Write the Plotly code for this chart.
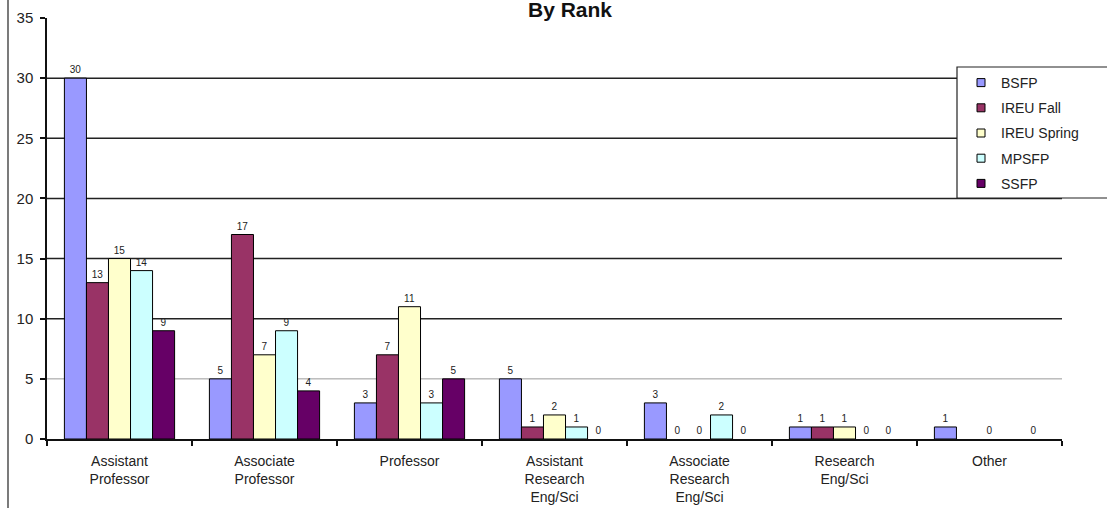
import plotly.graph_objects as go

# Faculty counts by rank for each program (None = no entry for that rank)
categories = [
    "Assistant<br>Professor",
    "Associate<br>Professor",
    "Professor",
    "Assistant<br>Research<br>Eng/Sci",
    "Associate<br>Research<br>Eng/Sci",
    "Research<br>Eng/Sci",
    "Other",
]
series_names = ["BSFP", "IREU Fall", "IREU Spring", "MPSFP", "SSFP"]
bsfp = [30, 5, 3, 5, 3, 1, 1]
ireu_fall = [13, 17, 7, 1, 0, 1, None]
ireu_spring = [15, 7, 11, 2, 0, 1, 0]
mpsfp = [14, 9, 3, 1, 2, 0, None]
ssfp = [9, 4, 5, 0, 0, 0, 0]
series_values = [bsfp, ireu_fall, ireu_spring, mpsfp, ssfp]
colors = ["#9999FF", "#993366", "#FFFFCC", "#CCFFFF", "#660066"]
grid_levels = [5, 10, 15, 20, 25, 30]
y_ticks = [0, 5, 10, 15, 20, 25, 30, 35]

W, H = 1107, 508
L, R, T, B = 47, 45, 18, 69
pw, ph = W - L - R, H - T - B


def px_x(p):
    return (p - L) / pw


def px_y(p):
    return (H - B - p) / ph


FONT = "Liberation Sans, Arial, sans-serif"

fig = go.Figure()
for name, vals, col in zip(series_names, series_values, colors):
    fig.add_trace(go.Bar(
        x=categories, y=vals, name=name,
        marker=dict(color=col,
                    line=dict(color="#000000",
                              width=[1 if v else 0 for v in vals])),
        text=["" if v is None else str(v) for v in vals],
        textposition="outside",
        textfont=dict(size=10, color="#222222", family=FONT),
        cliponaxis=False, showlegend=False,
    ))
    # compact legend swatch
    fig.add_trace(go.Scatter(
        x=[None], y=[None], mode="markers", name=name, legendgroup=name,
        marker=dict(symbol="square", size=8, color=col,
                    line=dict(color="#000000", width=1)),
    ))

shapes = []
for g in grid_levels:
    shapes.append(dict(
        type="line", xref="paper", yref="y", x0=0, x1=1, y0=g, y1=g,
        line=dict(color="#999999" if g == 5 else "#222222",
                  width=1 if g == 5 else 1.5),
        layer="below",
    ))
# legend frame, running off the right edge
shapes.append(dict(
    type="rect", xref="paper", yref="paper",
    x0=px_x(957), x1=px_x(1115), y0=px_y(198), y1=px_y(67),
    line=dict(color="#222222", width=1.2), fillcolor="#FFFFFF", layer="above",
))
# outer frame line on the left
shapes.append(dict(
    type="line", xref="paper", yref="paper",
    x0=px_x(8), x1=px_x(8), y0=px_y(-2), y1=px_y(510),
    line=dict(color="#222222", width=1.2),
))

fig.update_layout(
    width=W, height=H,
    margin=dict(l=L, r=R, t=T, b=B, autoexpand=False),
    paper_bgcolor="#FFFFFF", plot_bgcolor="#FFFFFF",
    font=dict(family=FONT, color="#222222"),
    barmode="group", bargap=0.24, bargroupgap=0,
    title=dict(text="<b>By Rank</b>", x=570 / W, xanchor="center",
               y=1 - 2 / H, yref="container", yanchor="top",
               font=dict(size=21, color="#111111", family=FONT), pad=dict(t=0)),
    showlegend=True,
    legend=dict(x=px_x(961), xanchor="left", y=px_y(67), yanchor="top",
                bgcolor="rgba(0,0,0,0)", borderwidth=0,
                font=dict(size=14, color="#222222", family=FONT),
                tracegroupgap=4, itemclick=False),
    shapes=shapes,
    xaxis=dict(
        type="category", showgrid=False, zeroline=False,
        showline=True, linecolor="#111111", linewidth=1.5,
        ticks="outside", ticklen=5, tickcolor="#111111", tickwidth=1.5,
        tickson="boundaries", tickfont=dict(size=14, color="#222222"),
        ticklabelstandoff=8,
    ),
    yaxis=dict(
        range=[0, 35], tickvals=y_ticks, showgrid=False, zeroline=False,
        showline=True, linecolor="#111111", linewidth=1.5,
        ticks="outside", ticklen=5, tickcolor="#111111", tickwidth=1.5,
        tickfont=dict(size=15, color="#222222"), ticklabelstandoff=4,
    ),
)

fig.write_html("out.html")
